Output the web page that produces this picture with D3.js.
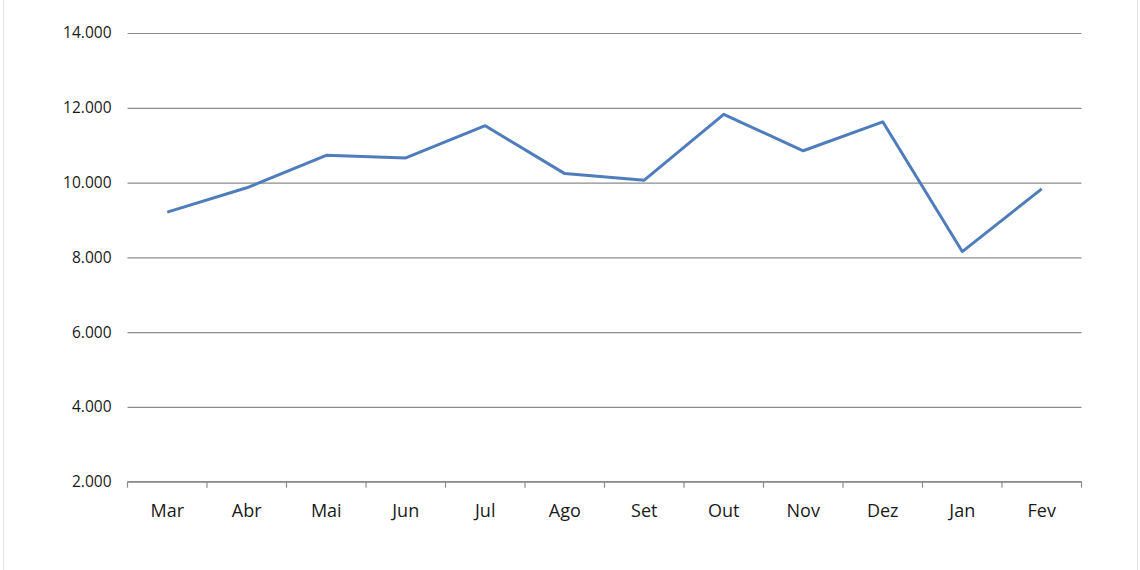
<!DOCTYPE html>
<html>
<head>
<meta charset="utf-8">
<script src="https://cdn.jsdelivr.net/npm/d3@7"></script>
<style>
  html, body { margin: 0; padding: 0; background: #fff; }
  svg { display: block; }
</style>
</head>
<body>
<svg id="chart" width="1140" height="570"></svg>
<script>
const months = ["Mar","Abr","Mai","Jun","Jul","Ago","Set","Out","Nov","Dez","Jan","Fev"];
const values = [9210, 9860, 10730, 10660, 11520, 10240, 10065, 11825, 10850, 11625, 8155, 9830];
const yTicks = [2000, 4000, 6000, 8000, 10000, 12000, 14000];

const svg = d3.select("#chart");
const W = 1140, H = 570;
const margin = { left: 127.5, right: W - 1081.5, top: 33, bottom: H - 481.7 };

// light frame lines at edges
svg.append("line").attr("x1", 3.5).attr("x2", 3.5).attr("y1", 0).attr("y2", H)
  .attr("stroke", "#e4e4e4").attr("stroke-width", 1);
svg.append("line").attr("x1", 1137.5).attr("x2", 1137.5).attr("y1", 0).attr("y2", H)
  .attr("stroke", "#e4e4e4").attr("stroke-width", 1);

const x = d3.scaleBand().domain(months).range([margin.left, W - margin.right]).padding(0);
const y = d3.scaleLinear().domain([2000, 14000]).range([H - margin.bottom, margin.top]);

const fmt = v => d3.format(",")(v).replace(/,/g, ".");

// gridlines
const yAxis = d3.axisLeft(y).tickValues(yTicks).tickFormat(fmt)
  .tickSize(-(W - margin.left - margin.right)).tickPadding(16);
const gy = svg.append("g").attr("transform", `translate(${margin.left},0)`).call(yAxis);
gy.select(".domain").remove();
gy.selectAll(".tick line").attr("stroke", "#8c8c8c").attr("stroke-width", 1.2);
gy.selectAll(".tick text").attr("font-family", "'Open Sans', sans-serif")
  .attr("font-size", 15.5).attr("fill", "#1a1a1a");

// x axis baseline and ticks at category boundaries
const gx = svg.append("g").attr("transform", `translate(0,${y(2000)})`);
gx.append("line").attr("x1", margin.left).attr("x2", W - margin.right)
  .attr("stroke", "#8c8c8c").attr("stroke-width", 1.2);
const bounds = months.map(m => x(m)).concat([x(months[months.length-1]) + x.bandwidth()]);
gx.selectAll("line.tk").data(bounds).enter().append("line").attr("class","tk")
  .attr("x1", d => d).attr("x2", d => d).attr("y1", 0).attr("y2", 6)
  .attr("stroke", "#8c8c8c").attr("stroke-width", 1.2);
gx.selectAll("text").data(months).enter().append("text")
  .attr("x", d => x(d) + x.bandwidth()/2).attr("y", 35)
  .attr("text-anchor", "middle")
  .attr("font-family", "'Open Sans', sans-serif").attr("font-size", 18).attr("fill", "#1a1a1a")
  .text(d => d);

// line
const line = d3.line().x((d, i) => x(months[i]) + x.bandwidth()/2).y(d => y(d));
svg.append("path").datum(values).attr("d", line)
  .attr("fill", "none").attr("stroke", "#4F7DBB").attr("stroke-width", 3)
  .attr("stroke-linejoin", "round");
</script>
</body>
</html>
